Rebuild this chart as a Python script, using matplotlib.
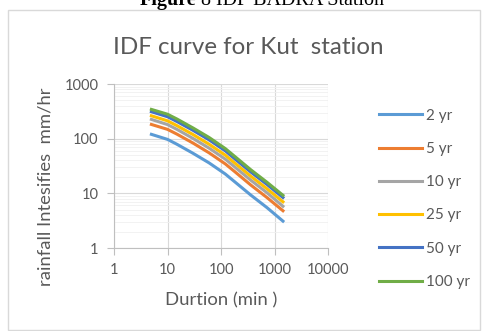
import matplotlib
matplotlib.use("Agg")
import matplotlib.pyplot as plt
from matplotlib.patches import Rectangle
from matplotlib.ticker import LogLocator, FixedLocator, NullFormatter

# durations (min) and intensities (mm/hr)
duration = [5, 10, 15, 30, 60, 120, 180, 360, 720, 1440]
i_2yr = [120, 97, 79, 54, 36, 22.6, 16.3, 9.3, 5.5, 3.1]
i_5yr = [182, 148, 121, 83, 55, 34.6, 25, 14.2, 8.4, 4.8]
i_10yr = [225, 181, 148, 101, 67, 42.3, 30.5, 17.4, 10.3, 5.8]
i_25yr = [262, 212, 173, 119, 79, 50, 36, 20.6, 12.2, 7.0]
i_50yr = [311, 252, 206, 142, 95, 60, 43, 24.6, 14.6, 8.4]
i_100yr = [343, 280, 229, 157, 105, 66, 47.5, 27, 16, 9.2]

labels = ["2 yr", "5 yr", "10 yr", "25 yr", "50 yr", "100 yr"]
series = [i_2yr, i_5yr, i_10yr, i_25yr, i_50yr, i_100yr]
colors = ["#5B9BD5", "#ED7D31", "#A5A5A5", "#FFC000", "#4472C4", "#70AD47"]

xticks = [1, 10, 100, 1000, 10000]
yticks = [1, 10, 100, 1000]

font = "Lato"
txt = "#595959"

W, H = 482, 331
fig = plt.figure(figsize=(W / 100, H / 100), dpi=100)

# chart border
fig.patches.append(Rectangle((8 / W, 1 / H), 472 / W, 320 / H, transform=fig.transFigure,
                             fill=False, edgecolor="#D9D9D9", linewidth=1.0))

# caption, cut off at the top of the image like in the source
fig.text(140 / W, 1 - 5 / H, "Figure", ha="left", va="baseline",
         family="Liberation Serif", fontsize=14.5, fontweight="bold", color="black")
fig.text(201 / W, 1 - 5 / H, "8 IDF BADRA Station", ha="left", va="baseline",
         family="Liberation Serif", fontsize=14.5, color="black")

ax = fig.add_axes([114 / W, 1 - 248 / H, 214 / W, 164 / H])

for vals, lab, c in zip(series, labels, colors):
    ax.plot(duration, vals, color=c, linewidth=2.2, label=lab)

ax.set_xscale("log")
ax.set_yscale("log")
ax.set_xlim(1, 10000)
ax.set_ylim(1, 1000)
ax.xaxis.set_major_locator(FixedLocator(xticks))
ax.yaxis.set_major_locator(FixedLocator(yticks))
ax.set_xticklabels([str(v) for v in xticks])
ax.set_yticklabels([str(v) for v in yticks])
ax.xaxis.set_minor_locator(LogLocator(base=10, subs=range(2, 10)))
ax.yaxis.set_minor_locator(LogLocator(base=10, subs=range(2, 10)))
ax.xaxis.set_minor_formatter(NullFormatter())
ax.yaxis.set_minor_formatter(NullFormatter())

ax.grid(which="major", color="#D9D9D9", linewidth=0.8)
ax.grid(which="minor", color="#F0F0F0", linewidth=0.6)
ax.set_axisbelow(True)

for s in ["top", "right"]:
    ax.spines[s].set_visible(False)
for s in ["left", "bottom"]:
    ax.spines[s].set_color("#BFBFBF")
    ax.spines[s].set_linewidth(0.8)
ax.tick_params(which="major", length=5, color="#BFBFBF", labelcolor=txt, labelsize=10.5,
               pad=6)
ax.tick_params(which="minor", length=0)
for lab in ax.get_xticklabels() + ax.get_yticklabels():
    lab.set_family(font)

# axis titles
fig.text(221 / W, 1 - 300 / H, "Durtion (min )", ha="center", va="center",
         family=font, fontsize=13.3, color=txt)
fig.text(46 / W, 1 - 187 / H, "rainfall Intesifies  mm/hr", ha="center", va="center",
         rotation=90, family=font, fontsize=13.3, color=txt)

fig.text(248 / W, 1 - 47 / H, "IDF curve for Kut  station", ha="center", va="center",
         family=font, fontsize=17.4, color=txt)

leg = ax.legend(loc="center left", bbox_to_anchor=(1.173, 0.30), frameon=False,
                prop={"family": font, "size": 11}, labelspacing=1.26,
                handlelength=2.8, handletextpad=0.3)
for t in leg.get_texts():
    t.set_color(txt)

fig.savefig("out.png", dpi=100)
